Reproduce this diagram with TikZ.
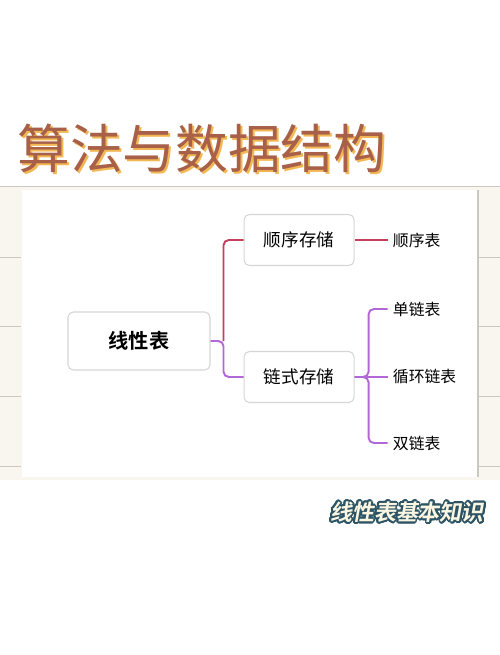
\documentclass[tikz,border=0pt]{standalone}
\usepackage{fontspec}
\setmainfont{Noto Sans CJK SC}[BoldFont={Noto Sans CJK SC Bold}]
\newfontfamily\slantFont{Noto Sans CJK SC Bold}[FakeSlant=0.18]
\usepackage[copies]{contour}
\usetikzlibrary{positioning}

\definecolor{titleBrown}{RGB}{168,96,72}
\definecolor{titleShadow}{RGB}{242,184,84}
\definecolor{paperCream}{RGB}{249,246,239}
\definecolor{ruleGray}{RGB}{204,200,192}
\definecolor{boxGray}{RGB}{214,214,214}
\definecolor{branchRed}{RGB}{196,64,94}
\definecolor{branchPurple}{RGB}{178,104,214}
\definecolor{tagTeal}{RGB}{44,84,100}
\definecolor{tagCream}{RGB}{250,246,226}

\begin{document}
\begin{tikzpicture}
	\tikzstyle{MainNode} = [rectangle, rounded corners=3pt, minimum width=2.84cm, minimum height=1.16cm, text centered, draw=boxGray, line width=0.6pt, fill=white, font=\fontsize{11.5}{13}\selectfont\bfseries]
	\tikzstyle{SubNode} = [rectangle, rounded corners=3pt, minimum width=2.2cm, minimum height=1.02cm, text centered, draw=boxGray, line width=0.6pt, fill=white, font=\fontsize{10}{12}\selectfont]
	\tikzstyle{Leaf} = [rectangle, inner sep=0.1cm, font=\fontsize{9}{11}\selectfont]
	\tikzstyle{redLine} = [branchRed, line width=1.1pt, rounded corners=3pt]
	\tikzstyle{purpleLine} = [branchPurple, line width=1.1pt, rounded corners=3pt]
	\tikzstyle{stripLine} = [ruleGray, line width=0.5pt]

	\useasboundingbox (0,0) rectangle (10,-13.1);
	\fill[white] (0,0) rectangle (10,-13.1);
	\fill[paperCream] (0,-3.72) rectangle (10,-9.6);
	\fill[white] (0.44,-3.8) rectangle (9.54,-9.54);
	\draw[stripLine] (0,-3.72) -- (10,-3.72);
	\draw[stripLine] (0,-5.14) -- (0.42,-5.14) (0,-6.52) -- (0.42,-6.52) (0,-7.92) -- (0.42,-7.92) (0,-9.32) -- (0.42,-9.32);
	\draw[stripLine] (9.56,-5.14) -- (10,-5.14) (9.56,-6.52) -- (10,-6.52) (9.56,-7.92) -- (10,-7.92) (9.56,-9.32) -- (10,-9.32);
	\draw[stripLine, line width=0.8pt] (9.56,-3.8) -- (9.56,-9.54);

	\node (titleShadowText) [anchor=west, inner sep=0pt, text=titleShadow, font=\fontsize{30}{36}\selectfont] at (0.38,-3.0) {算法与数据结构};
	\node (titleText) [anchor=west, inner sep=0pt, text=titleBrown, font=\fontsize{30}{36}\selectfont] at (0.34,-2.96) {算法与数据结构};

	\node (linearList) [MainNode] at (2.78,-6.82) {线性表};
	\node (seqStorage) [SubNode, right = 0.66cm of linearList, yshift=2.02cm] {顺序存储};
	\node (chainStorage) [SubNode, right = 0.66cm of linearList, yshift=-0.72cm] {链式存储};

	\node (seqList) [Leaf, right = 0.66cm of seqStorage] {顺序表};
	\node (singleList) [Leaf, right = 0.66cm of chainStorage, yshift=1.36cm] {单链表};
	\node (circList) [Leaf, right = 0.66cm of chainStorage] {循环链表};
	\node (doubleList) [Leaf, right = 0.66cm of chainStorage, yshift=-1.32cm] {双链表};

	\node (tagText) [inner sep=0pt, font=\fontsize{12.5}{14}\slantFont] at (8.14,-10.26) {\contourlength{1.1pt}\contour{tagTeal}{\textcolor{tagCream}{线性表基本知识}}};

	\draw[redLine] ([xshift=0.26cm]linearList.east) |- (seqStorage.west);
	\draw[purpleLine] (linearList.east) -- ++(0.26,0) |- (chainStorage.west);
	\draw[redLine] (seqStorage.east) -- (seqList.west);
	\draw[purpleLine] (chainStorage.east) -- ++(0.28,0) |- (singleList.west);
	\draw[purpleLine] (chainStorage.east) -- (circList.west);
	\draw[purpleLine] (chainStorage.east) -- ++(0.28,0) |- (doubleList.west);
\end{tikzpicture}
\end{document}
